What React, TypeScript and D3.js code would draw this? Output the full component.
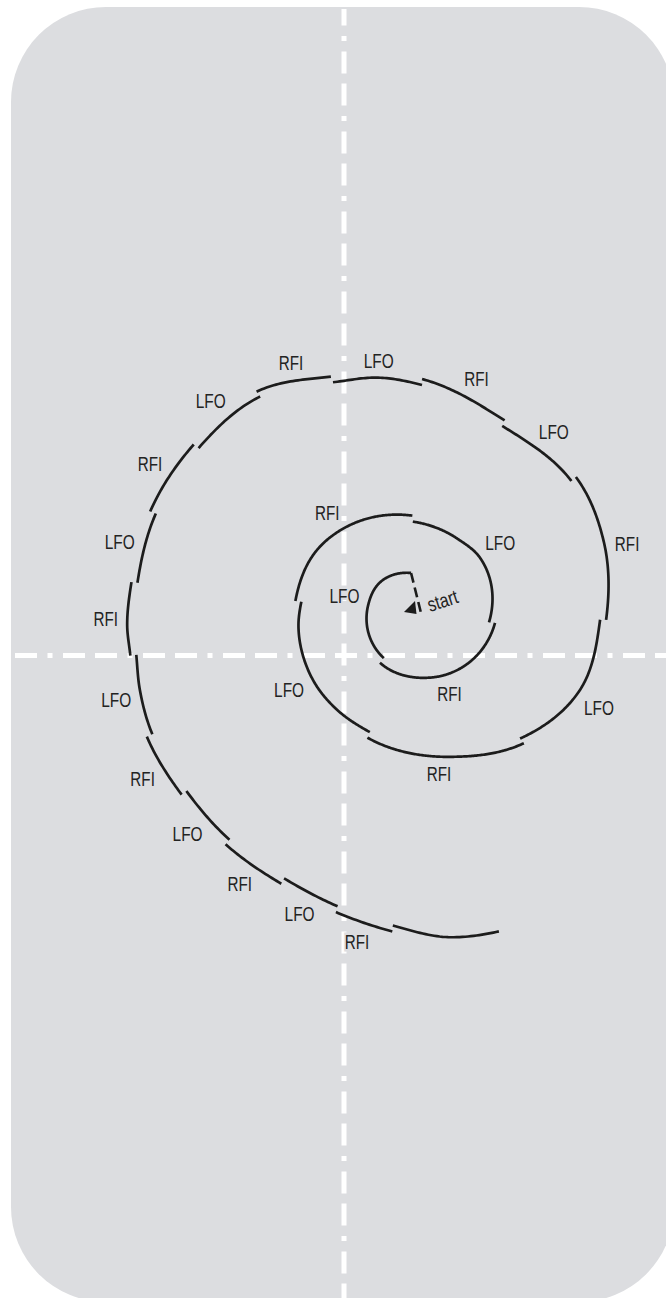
import React from "react";
import * as d3 from "d3";

const WIDTH = 666;
const HEIGHT = 1298;

// Spiral: turn angle (degrees, counter-clockwise from 12 o'clock) and radius
const knotAngles = [12, 50, 80, 140, 190, 262, 314, 334, 364, 411, 423, 443, 455, 470, 485, 500, 517, 552, 579, 605, 628, 652, 671, 697, 720, 730, 741, 756, 773, 789, 803, 812, 818, 825, 834, 847, 859, 873, 884, 895, 905, 916];
const knotRadii = [46, 54.5, 55.8, 59.3, 60.5, 72, 86, 88, 96.5, 116.5, 120, 122.3, 125, 127, 128.5, 129, 130.5, 142, 162, 179.7, 183, 195, 205, 209.5, 233.5, 244, 252, 273.5, 280.3, 286, 287.3, 290, 289.5, 293, 296, 295.5, 297.5, 299.5, 305.6, 314.7, 326.4, 329.5];

// Segment boundaries along the spiral (degrees) and the label of each segment
const segmentBreaks = [12, 140, 264, 364.4, 443.6, 516.8, 579, 628.5, 671.5, 696.5, 719.5, 740.5, 756.2, 773, 789, 803.5, 818, 834, 847, 859.7, 872.7, 884.2, 895, 914];
const segmentLabels = ["LFO", "RFI", "LFO", "RFI", "LFO", "RFI", "LFO", "RFI", "LFO", "RFI", "LFO", "RFI", "LFO", "RFI", "LFO", "RFI", "LFO", "RFI", "LFO", "RFI", "LFO", "RFI", ""];
const startLabel = "start";

// layout
const CX = 420;
const CY = 615;
const JOG = 3;
const BG = "#dcdde0";
const INK = "#1c1c1c";
const TEXT = "#232323";
const FONT = "'Liberation Sans', Arial, sans-serif";
const LABEL_WIDTH: Record<string, number> = { LFO: 30, RFI: 24.5 };

function radiusAt(t: number): number {
  const T = knotAngles;
  const R = knotRadii;
  const n = T.length;
  let i = d3.bisectRight(T, t) - 1;
  i = Math.max(0, Math.min(n - 2, i));
  const slope = (a: number, b: number) => (R[b] - R[a]) / (T[b] - T[a]);
  const m0 = i > 0 ? slope(i - 1, i + 1) : slope(i, i + 1);
  const m1 = i < n - 2 ? slope(i, i + 2) : slope(i, i + 1);
  const h = T[i + 1] - T[i];
  const s = (t - T[i]) / h;
  const s2 = s * s;
  const s3 = s2 * s;
  return (2 * s3 - 3 * s2 + 1) * R[i] + (s3 - 2 * s2 + s) * h * m0 + (-2 * s3 + 3 * s2) * R[i + 1] + (s3 - s2) * h * m1;
}

const toRad = (deg: number) => (deg * Math.PI) / 180;

function pos(t: number, r: number): [number, number] {
  return [CX - r * Math.sin(toRad(t)), CY - r * Math.cos(toRad(t))];
}

const radial = d3
  .lineRadial<[number, number]>()
  .angle((d) => -toRad(d[0]))
  .radius((d) => d[1])
  .curve(d3.curveLinear);

export default function App() {
  const segments = segmentLabels.map((label, i) => {
    const t0 = segmentBreaks[i];
    const t1 = segmentBreaks[i + 1];
    const off = i % 2 === 0 ? -JOG : JOG;
    const ts = d3.range(t0, t1, 0.5).concat([t1]);
    const pts: [number, number][] = ts.map((t) => [t, radiusAt(t) + off]);
    const d = radial(pts) || "";
    const tm = (t0 + t1) / 2;
    const p = pos(tm, radiusAt(tm) + off);
    const pa = pos(tm - 0.5, radiusAt(tm - 0.5) + off);
    const pb = pos(tm + 0.5, radiusAt(tm + 0.5) + off);
    let tx = pb[0] - pa[0];
    let ty = pb[1] - pa[1];
    const len = Math.hypot(tx, ty) || 1;
    tx /= len;
    ty /= len;
    const nx = -ty;
    const ny = tx;
    const hw = (LABEL_WIDTH[label] || 24) / 2;
    const hh = 7.5;
    const dist = 9 + Math.abs(nx) * hw + Math.abs(ny) * hh;
    return { d, label, lx: p[0] + nx * dist, ly: p[1] + ny * dist };
  });

  const startPt = pos(segmentBreaks[0], radiusAt(segmentBreaks[0]) - JOG);
  const arrowEnd: [number, number] = [CX + 1, CY - 2];
  const tri = [
    [CX - 16, CY - 3],
    [CX - 5, CY - 14],
    [CX - 3.5, CY - 1],
  ];

  return (
    <svg
      width={WIDTH}
      height={HEIGHT}
      style={{ position: "absolute", left: 0, top: 0, display: "block" }}
    >
      <rect x={0} y={0} width={WIDTH} height={HEIGHT} fill="#ffffff" />
      <rect x={11} y={7} width={663} height={1295} rx={95} ry={95} fill={BG} />
      <line
        x1={344}
        y1={9}
        x2={344}
        y2={HEIGHT}
        stroke="#ffffff"
        strokeWidth={5}
        strokeDasharray="22 10.5 5 10.5 22 10"
        strokeDashoffset={5.5}
      />
      <line
        x1={15}
        y1={655.5}
        x2={WIDTH}
        y2={655.5}
        stroke="#ffffff"
        strokeWidth={5}
        strokeDasharray="22 10.5 5 10.5 22 10"
      />
      <g transform={`translate(${CX},${CY})`}>
        {segments.map((s, i) => (
          <path key={i} d={s.d} fill="none" stroke={INK} strokeWidth={2.7} />
        ))}
      </g>
      <g fontFamily={FONT} fontSize={21} fill={TEXT}>
        {segments
          .filter((s) => s.label)
          .map((s, i) => (
            <text
              key={i}
              x={s.lx}
              y={s.ly + 7.5}
              textAnchor="middle"
              textLength={LABEL_WIDTH[s.label]}
              lengthAdjust="spacingAndGlyphs"
              stroke={BG}
              strokeWidth={5}
              paintOrder="stroke"
            >
              {s.label}
            </text>
          ))}
      </g>
      <line
        x1={startPt[0]}
        y1={startPt[1]}
        x2={arrowEnd[0]}
        y2={arrowEnd[1]}
        stroke={INK}
        strokeWidth={2.6}
        strokeDasharray="10 5"
      />
      <polygon points={tri.map((p) => p.join(",")).join(" ")} fill={INK} />
      <text
        x={430}
        y={612}
        transform="rotate(-18 430 612)"
        fontFamily={FONT}
        fontSize={20}
        fill={TEXT}
        textLength={31}
        lengthAdjust="spacingAndGlyphs"
      >
        {startLabel}
      </text>
    </svg>
  );
}
